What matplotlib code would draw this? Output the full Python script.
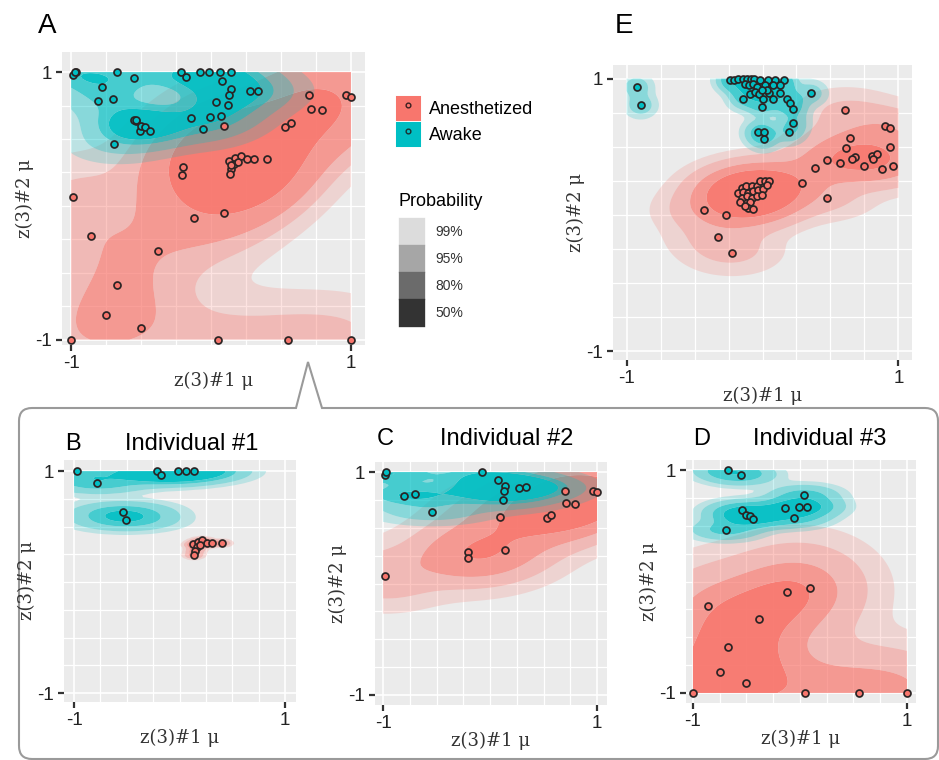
import numpy as np
import matplotlib
matplotlib.use("Agg")
import matplotlib.pyplot as plt
from matplotlib.patches import Patch
from matplotlib.lines import Line2D
from matplotlib.legend_handler import HandlerTuple
from matplotlib.path import Path
from matplotlib.patches import PathPatch

RED = "#F8766D"
TEAL = "#00BFC4"
BG = "#EBEBEB"

# ---- data: (z1, z2) per group ----
# Individual #1
b_awake_x = [-0.968, -0.778, -0.212, -0.180, -0.013, 0.066, 0.139, -0.535, -0.509]
b_awake_y = [1.0, 0.892, 1.0, 0.961, 1.0, 1.0, 1.0, 0.631, 0.556]
b_anest_x = [0.130, 0.171, 0.215, 0.256, 0.304, 0.399, 0.161, 0.146, 0.136, 0.193]
b_anest_y = [0.339, 0.360, 0.375, 0.351, 0.351, 0.351, 0.315, 0.279, 0.240, 0.330]

# Individual #2
c_awake_x = [-0.984, -0.969, -0.806, -0.703, -0.547, -0.078, 0.078, 0.141, 0.131, 0.119, 0.275, 0.338]
c_awake_y = [0.976, 1.0, 0.787, 0.802, 0.644, 1.0, 0.931, 0.877, 0.826, 0.751, 0.856, 0.862]
c_anest_x = [0.703, 0.963, 1.0, 0.713, 0.791, 0.531, 0.569, 0.094, -0.203, -0.209, 0.144, -0.984]
c_anest_y = [0.832, 0.826, 0.817, 0.722, 0.713, 0.587, 0.617, 0.596, 0.287, 0.228, 0.302, 0.063]

# Individual #3
d_awake_x = [-0.672, -0.547, -0.538, -0.500, -0.469, -0.438, -0.694, -0.141, -0.056, -0.006, 0.069, 0.038]
d_awake_y = [1.0, 0.955, 0.642, 0.597, 0.591, 0.558, 0.463, 0.657, 0.573, 0.666, 0.672, 0.776]
d_anest_x = [-0.125, 0.094, -0.859, -0.381, -0.672, -0.750, -0.500, -1.0, 0.047, 0.547, 1.0]
d_anest_y = [-0.090, -0.054, -0.224, -0.334, -0.591, -0.815, -0.910, -1.0, -1.0, -1.0, -1.0]

# panel E
e_awake_x = [-0.926, -0.897, -0.239, -0.210, -0.178, -0.146, -0.117, -0.087, -0.063, -0.018,
             0.043, 0.092, 0.158, -0.129, -0.097, -0.067, -0.038, 0.018, 0.080, 0.129,
             -0.146, -0.092, -0.055, -0.023, 0.006, 0.050, 0.080, -0.006, 0.129, 0.178,
             0.202, 0.227, 0.355, 0.227, 0.198, -0.031, 0.011, 0.011, 0.031, -0.006]
e_awake_y = [0.941, 0.804, 0.988, 0.988, 0.995, 1.0, 0.995, 1.0, 0.995, 0.990,
             0.990, 0.990, 0.988, 0.958, 0.951, 0.958, 0.941, 0.951, 0.951, 0.951,
             0.853, 0.885, 0.902, 0.885, 0.853, 0.897, 0.853, 0.794, 0.892, 0.848,
             0.818, 0.779, 0.892, 0.671, 0.607, 0.607, 0.607, 0.558, 0.917, 0.917]
e_anest_x = [0.607, 0.902, 0.939, 0.644, 0.615, 0.939, 0.681, 0.656, 0.804, 0.841,
             0.816, 0.747, 0.571, 0.472, 0.387, 0.958, 0.877, 0.288, 0.472,
             -0.153, -0.121, -0.080, -0.043, -0.018, 0.018, 0.050, -0.178, -0.141, -0.104,
             -0.067, -0.031, 0.006, 0.031, -0.153, -0.117, -0.080, -0.043, -0.006, -0.166,
             -0.092, -0.104, -0.067, -0.129, -0.431, -0.271, -0.325, -0.222]
e_anest_y = [0.769, 0.652, 0.639, 0.566, 0.492, 0.499, 0.426, 0.411, 0.431, 0.443,
             0.411, 0.362, 0.382, 0.401, 0.345, 0.362, 0.333, 0.234, 0.124,
             0.198, 0.210, 0.210, 0.210, 0.247, 0.247, 0.247, 0.161, 0.166, 0.161,
             0.173, 0.185, 0.190, 0.222, 0.124, 0.136, 0.124, 0.136, 0.148, 0.092,
             0.092, 0.050, 0.043, 0.063, 0.033, 0.001, -0.163, -0.281]

probs = [0.99, 0.95, 0.80, 0.50]
prob_labels = ["99%", "95%", "80%", "50%"]
band_alpha = [0.2, 0.42, 0.7, 0.95]
legend_greys = ["#DCDCDC", "#A6A6A6", "#6B6B6B", "#333333"]


def bw_nrd(v):
    v = np.asarray(v, float)
    q = np.percentile(v, [25, 75])
    h = (q[1] - q[0]) / 1.34
    s = np.std(v, ddof=1)
    m = min(s, h) if h > 0 else s
    return 4 * 1.06 * m * len(v) ** (-0.2)


def kde2d(x, y, n=120):
    x = np.asarray(x, float); y = np.asarray(y, float)
    gx = np.linspace(-1, 1, n); gy = np.linspace(-1, 1, n)
    hx = bw_nrd(x) / 4; hy = bw_nrd(y) / 4
    ax_ = np.exp(-0.5 * ((gx[:, None] - x[None, :]) / hx) ** 2) / hx
    ay_ = np.exp(-0.5 * ((gy[:, None] - y[None, :]) / hy) ** 2) / hy
    z = ay_ @ ax_.T / (2 * np.pi * len(x))
    return gx, gy, z


def hdr(ax, x, y, color):
    gx, gy, z = kde2d(x, y)
    zs = np.sort(z.ravel())[::-1]
    cum = np.cumsum(zs) / zs.sum()
    levels = [zs[min(np.searchsorted(cum, p), len(zs) - 1)] for p in probs]
    levels.append(z.max() * 1.001)
    rgb = matplotlib.colors.to_rgb(color)
    cols = [(*rgb, a) for a in band_alpha]
    ax.contourf(gx, gy, z, levels=levels, colors=cols, antialiased=True, zorder=2)


def panel(ax, groups, xlim=(-1.08, 1.1), ylim=(-1.08, 1.1)):
    ax.set_facecolor(BG)
    for s in ax.spines.values():
        s.set_visible(False)
    ax.set_xlim(*xlim); ax.set_ylim(*ylim)
    ax.set_xticks([-1, 1]); ax.set_yticks([-1, 1])
    ax.set_xticklabels(["-1", "1"]); ax.set_yticklabels(["-1", "1"])
    ax.set_xticks(np.arange(-1, 1.01, 0.25), minor=True)
    ax.set_yticks(np.arange(-1, 1.01, 0.25), minor=True)
    ax.grid(which="major", color="white", lw=1.2, zorder=0)
    ax.grid(which="minor", color="white", lw=0.9, zorder=0)
    ax.set_axisbelow(True)
    ax.tick_params(which="minor", length=0)
    ax.tick_params(which="major", length=4, width=1.6, color="#333333",
                   labelsize=13.5, labelcolor="#222222", pad=3)
    for lab in ax.get_xticklabels() + ax.get_yticklabels():
        lab.set_family("Liberation Sans")
    for (gx, gy, col) in groups:
        hdr(ax, gx, gy, col)
    for (gx, gy, col) in groups:
        ax.plot(gx, gy, ls="", marker="o", ms=5.0, mfc=col, mec="#2b2424",
                mew=1.25, zorder=5, clip_on=False)
    ax.set_xlabel("z(3)#1 \u03bc", family="DejaVu Serif", fontsize=13,
                  color="#333333", labelpad=0)
    ax.set_ylabel("z(3)#2 \u03bc", family="DejaVu Serif", fontsize=13,
                  color="#333333", labelpad=1)


fig = plt.figure(figsize=(9.39, 7.6), dpi=100)
W, H = 939.0, 760.0


def box(l, t, r, b):
    return [l / W, 1 - b / H, (r - l) / W, (b - t) / H]


# callout box behind the lower panels
ov = fig.add_axes([0, 0, 1, 1], zorder=-5)
ov.set_xlim(0, W); ov.set_ylim(H, 0); ov.axis("off")
rr = 13
verts = [(19, 759 - rr), (19, 408 + rr), (19, 408), (19 + rr, 408),
         (296, 408), (308, 362), (322, 408), (938 - rr, 408), (938, 408), (938, 408 + rr),
         (938, 759 - rr), (938, 759), (938 - rr, 759), (19 + rr, 759), (19, 759), (19, 759 - rr)]
codes = [Path.MOVETO, Path.LINETO, Path.CURVE3, Path.CURVE3,
         Path.LINETO, Path.LINETO, Path.LINETO, Path.LINETO, Path.CURVE3, Path.CURVE3,
         Path.LINETO, Path.CURVE3, Path.CURVE3, Path.LINETO, Path.CURVE3, Path.CURVE3]
ov.add_patch(PathPatch(Path(verts, codes), fc="white", ec="#9a9a9a", lw=1.5))

all_awake_x = b_awake_x + c_awake_x + d_awake_x
all_awake_y = b_awake_y + c_awake_y + d_awake_y
all_anest_x = b_anest_x + c_anest_x + d_anest_x
all_anest_y = b_anest_y + c_anest_y + d_anest_y

axA = fig.add_axes(box(62, 52, 365, 345))
panel(axA, [(all_anest_x, all_anest_y, RED), (all_awake_x, all_awake_y, TEAL)],
      xlim=(-1.065, 1.1), ylim=(-1.04, 1.15))

axE = fig.add_axes(box(613, 65, 912, 360))
panel(axE, [(e_anest_x, e_anest_y, RED), (e_awake_x, e_awake_y, TEAL)],
      xlim=(-1.1, 1.1), ylim=(-1.066, 1.1))

axB = fig.add_axes(box(64, 460, 296, 702))
panel(axB, [(b_anest_x, b_anest_y, RED), (b_awake_x, b_awake_y, TEAL)],
      xlim=(-1.095, 1.104), ylim=(-1.08, 1.1))

axC = fig.add_axes(box(375, 462, 607, 705))
panel(axC, [(c_anest_x, c_anest_y, RED), (c_awake_x, c_awake_y, TEAL)],
      xlim=(-1.075, 1.093), ylim=(-1.09, 1.09))

axD = fig.add_axes(box(686, 460, 916, 703))
panel(axD, [(d_anest_x, d_anest_y, RED), (d_awake_x, d_awake_y, TEAL)],
      xlim=(-1.065, 1.084), ylim=(-1.09, 1.09))

# panel letters and titles
sans = "Liberation Sans"
for (px, py, s, fs) in [(38, 33, "A", 20), (615, 33, "E", 20), (65, 450, "B", 17),
                        (377, 445, "C", 17), (693, 445, "D", 17)]:
    fig.text(px / W, 1 - py / H, s, family=sans, fontsize=fs, va="baseline")
for (px, py, s) in [(125, 450, "Individual #1"), (440, 445, "Individual #2"),
                    (753, 445, "Individual #3")]:
    fig.text(px / W, 1 - py / H, s, family=sans, fontsize=17, va="baseline")

# legends
hmap = {tuple: HandlerTuple(ndivide=1)}
h_col = [(Patch(fc=RED, ec=RED, lw=2.2), Line2D([], [], ls="", marker="o", ms=3.4, mfc=RED, mec="#3a2020", mew=1.0)),
         (Patch(fc=TEAL, ec=TEAL, lw=2.2), Line2D([], [], ls="", marker="o", ms=3.4, mfc=TEAL, mec="#1a3030", mew=1.0))]
leg1 = fig.legend(h_col, ["Anesthetized", "Awake"], handler_map=hmap,
                  loc="upper left", bbox_to_anchor=(397 / W, 1 - 97 / H),
                  frameon=False, borderpad=0, borderaxespad=0,
                  handlelength=1.2, handleheight=1.5, labelspacing=0.2,
                  handletextpad=0.55, prop={"family": sans, "size": 13})

fig.text(398 / W, 1 - 206 / H, "Probability", family=sans, fontsize=13, va="baseline")
h_prob = [Patch(fc=g, ec=g, lw=2.4) for g in legend_greys]
leg2 = fig.legend(h_prob, prob_labels, loc="upper left",
                  bbox_to_anchor=(400 / W, 1 - 219 / H), frameon=False,
                  borderpad=0, borderaxespad=0, handlelength=1.65, handleheight=2.35,
                  labelspacing=0.18, handletextpad=0.9,
                  prop={"family": sans, "size": 10})
for t in leg2.get_texts():
    t.set_color("#333333")

fig.savefig("out.png", dpi=100)
